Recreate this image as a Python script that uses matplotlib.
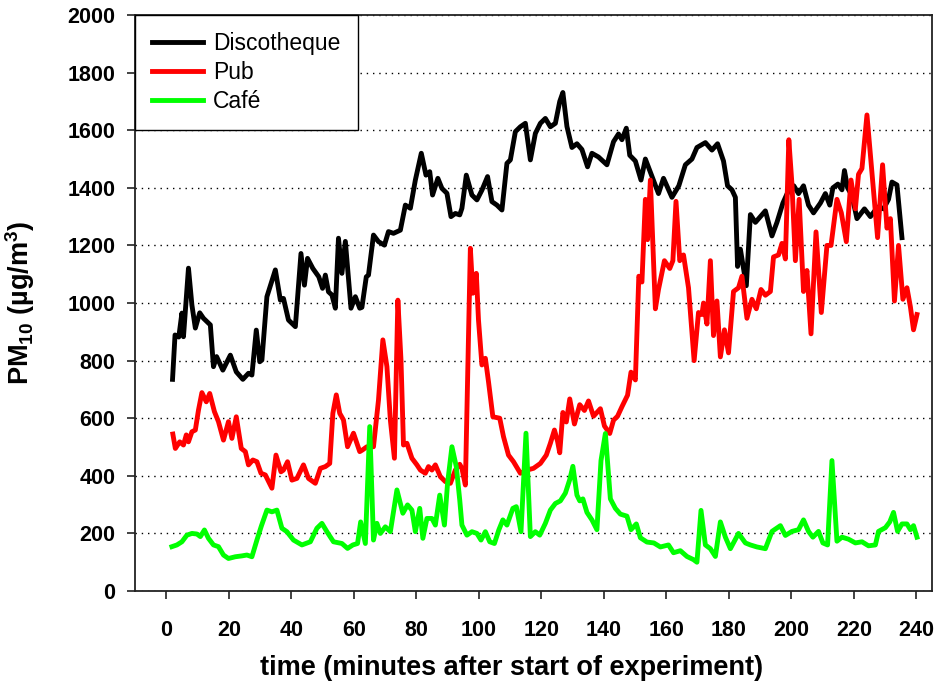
import numpy as np
import matplotlib
matplotlib.use("Agg")
import matplotlib.pyplot as plt

plt.rcParams['font.family'] = ['Liberation Sans', 'DejaVu Sans']
plt.rcParams['mathtext.fontset'] = 'custom'
plt.rcParams['mathtext.rm'] = 'Liberation Sans:bold'
plt.rcParams['mathtext.default'] = 'rm'

# time (min) / PM10 (ug/m3)
disco_t = [2.0, 2.8, 4.0, 5.0, 5.5, 7.1, 8.2, 9.3, 10.7, 11.9, 14.1, 15.1, 16.1, 18.1, 20.5, 22.4,
           24.5, 26.3, 27.4, 28.8, 29.9, 30.6, 32.2, 34.9, 36.5, 37.5, 39.1, 41.3, 43.1, 44.2, 45.2,
           46.9, 48.8, 50.0, 50.9, 51.9, 53.0, 54.1, 55.1, 56.2, 57.3, 59.1, 60.5, 61.9, 62.6, 64.0,
           64.7, 66.3, 67.9, 69.8, 71.1, 72.7, 74.9, 76.5, 78.1, 79.7, 81.6, 83.1, 84.3, 85.2, 86.9,
           88.2, 89.8, 91.1, 92.5, 93.9, 94.6, 96.0, 97.8, 99.4, 101.0, 102.8, 104.2, 105.8, 107.4,
           109.0, 110.1, 111.7, 113.3, 114.9, 116.5, 118.1, 119.7, 121.3, 122.9, 124.5, 125.9, 126.9,
           128.2, 129.8, 131.4, 133.0, 134.8, 136.2, 138.3, 141.0, 143.1, 144.7, 145.8, 147.2, 148.3,
           150.1, 151.9, 153.3, 155.4, 157.5, 159.1, 161.8, 164.0, 166.1, 168.2, 169.8, 172.5, 174.6,
           176.4, 178.3, 179.6, 181.0, 182.1, 182.8, 183.7, 184.7, 185.6, 186.9, 188.5, 190.1, 191.7,
           193.8, 195.4, 197.3, 199.2, 200.8, 202.3, 203.9, 205.5, 207.1, 209.3, 210.9, 212.3, 213.3,
           214.9, 216.2, 217.0, 218.0, 219.4, 221.0, 223.4, 225.3, 227.6, 229.5, 231.1, 232.2, 233.8,
           235.4]
disco_v = [735, 889, 882, 965, 883, 1121, 993, 913, 966, 947, 924, 779, 814, 767, 819, 761,
           735, 756, 750, 906, 796, 802, 1022, 1115, 1010, 1016, 941, 918, 1172, 1062, 1155,
           1120, 1091, 1051, 1097, 1039, 1028, 982, 1225, 1103, 1214, 982, 1022, 982, 985, 1091,
           1097, 1236, 1213, 1201, 1248, 1242, 1253, 1340, 1329, 1427, 1520, 1444, 1456, 1375, 1433,
           1398, 1381, 1300, 1311, 1306, 1329, 1444, 1375, 1358, 1392, 1439, 1352, 1340, 1323,
           1485, 1497, 1595, 1612, 1624, 1497, 1589, 1624, 1641, 1612, 1624, 1700, 1731,
           1613, 1540, 1553, 1533, 1473, 1520, 1507, 1480, 1560, 1587, 1567, 1607, 1513,
           1493, 1427, 1500, 1440, 1380, 1433, 1367, 1407, 1480, 1500, 1540, 1557, 1531,
           1553, 1493, 1407, 1393, 1367, 1127, 1187, 1120, 1060, 1307, 1280, 1300, 1320,
           1233, 1280, 1347, 1393, 1407, 1380, 1407, 1340, 1313, 1347, 1380, 1340, 1400,
           1413, 1393, 1460, 1400, 1373, 1293, 1327, 1300, 1333, 1327, 1360, 1420, 1410,
           1227]

pub_t = [2.1, 2.9, 4.3, 5.5, 6.4, 7.1, 8.2, 9.3, 10.3, 11.4, 12.8, 13.9, 15.4, 16.7, 18.3, 19.9,
         21.0, 22.4, 24.0, 25.3, 26.3, 27.7, 29.0, 30.3, 31.7, 33.8, 35.1, 36.7, 37.5, 38.8, 40.2,
         41.8, 43.9, 45.5, 47.7, 49.3, 50.9, 52.3, 53.3, 54.4, 55.5, 56.7, 58.0, 59.9, 61.9, 62.8,
         64.2, 66.3, 67.9, 69.3, 70.6, 71.7, 73.0, 74.1, 75.1, 75.9, 77.0, 78.6, 80.2, 81.3, 82.9,
         83.9, 85.0, 86.1, 87.7, 89.3, 90.9, 92.5, 93.9, 94.6, 95.7, 97.3, 98.1, 99.2, 99.9, 101.0,
         102.1, 103.1, 104.5, 106.7, 107.9, 109.5, 111.1, 113.3, 115.4, 117.5, 119.7, 121.6, 122.9,
         124.2, 125.2, 125.9, 126.9, 128.0, 129.1, 130.6, 132.3, 133.8, 135.1, 136.7, 138.9, 140.2,
         141.9, 143.1, 144.4, 145.8, 147.6, 148.7, 150.1, 151.2, 152.2, 153.3, 154.0, 154.9, 156.5,
         157.5, 159.4, 161.1, 162.1, 163.1, 164.3, 165.5, 167.1, 168.9, 170.3, 171.4, 171.9, 173.0,
         174.1, 175.1, 176.2, 177.3, 178.6, 179.9, 181.5, 183.1, 184.2, 185.8, 187.4, 188.8, 190.3,
         191.7, 193.3, 194.3, 195.9, 197.0, 198.1, 199.2, 200.2, 201.3, 202.5, 203.9, 205.0, 206.3,
         207.9, 209.6, 211.4, 212.7, 214.6, 216.0, 217.6, 219.1, 220.5, 221.5, 222.6, 224.2, 225.8,
         227.6, 229.2, 230.6, 231.7, 233.0, 234.3, 235.7, 237.0, 238.1, 239.1, 240.2]
pub_v = [545, 495, 518, 507, 542, 518, 553, 559, 628, 689, 657, 686, 623, 588, 524, 588,
         530, 605, 495, 484, 438, 455, 449, 409, 403, 357, 472, 414, 420, 449, 385,
         391, 438, 391, 374, 426, 432, 443, 617, 681, 617, 594, 501, 548, 484, 490,
         501, 501, 663, 872, 779, 594, 461, 1010, 802, 507, 513, 461, 438, 420, 409,
         432, 420, 438, 397, 380, 374, 420, 440, 426, 368, 1190, 1034, 1103, 941, 785,
         808, 727, 605, 600, 536, 472, 449, 409, 420, 426, 443, 472, 513,
         559, 520, 480, 620, 587, 667, 580, 647, 627, 660, 607, 633, 573,
         547, 593, 607, 640, 680, 760, 733, 1093, 1073, 1360, 1220, 1427, 980,
         1047, 1147, 1120, 1147, 1353, 1147, 1167, 1053, 800, 967, 960, 1000, 927,
         1147, 887, 1007, 813, 907, 827, 1040, 1053, 1093, 947, 1013, 980, 1047,
         1027, 1040, 1160, 1167, 1207, 1153, 1567, 1413, 1147, 1360, 1040, 1113, 893,
         1247, 967, 1200, 1200, 1360, 1313, 1213, 1427, 1327, 1447, 1467, 1653, 1453,
         1227, 1480, 1260, 1293, 1007, 1200, 1013, 1053, 987, 907, 960]

cafe_t = [1.8, 3.4, 5.0, 6.6, 8.2, 9.8, 10.9, 12.2, 13.5, 15.1, 16.7, 18.3, 19.9, 22.1, 24.2, 25.8,
          27.4, 29.0, 30.4, 32.2, 33.8, 35.4, 37.0, 38.6, 40.7, 43.4, 46.1, 48.2, 49.8, 51.4, 53.5,
          56.2, 58.0, 59.7, 61.2, 62.2, 63.7, 65.1, 66.3, 67.4, 68.5, 70.1, 71.7, 73.8, 75.7, 77.2,
          78.6, 79.7, 81.1, 82.1, 83.4, 85.0, 86.1, 87.5, 89.0, 90.0, 91.4, 92.8, 93.9, 94.6, 96.2,
          97.8, 99.4, 100.7, 102.1, 103.5, 105.0, 106.4, 107.7, 109.0, 110.9, 112.0, 113.5, 115.1,
          116.5, 118.1, 119.5, 121.3, 122.9, 124.5, 126.1, 127.7, 129.1, 130.1, 131.4, 132.3, 133.3,
          134.6, 136.2, 137.8, 139.1, 140.5, 142.1, 143.7, 145.3, 147.4, 148.7, 150.4, 151.7, 153.8,
          156.0, 158.1, 160.7, 162.3, 164.5, 166.6, 168.7, 169.8, 171.1, 172.5, 174.1, 175.7, 177.3,
          178.9, 180.5, 183.1, 185.3, 186.9, 189.0, 191.7, 193.8, 196.5, 198.1, 200.2, 202.3, 203.9,
          205.5, 206.9, 208.7, 210.1, 211.6, 213.0, 214.6, 216.2, 218.3, 220.5, 222.6, 224.7, 226.9,
          227.9, 230.1, 231.5, 232.7, 234.0, 235.4, 237.0, 238.1, 239.1, 240.2]
cafe_v = [154, 160, 171, 194, 200, 198, 189, 212, 183, 160, 154, 125, 113, 119, 122, 125,
          119, 177, 225, 281, 275, 281, 218, 206, 177, 160, 171, 218, 235, 206, 171,
          165, 148, 160, 165, 240, 165, 571, 177, 235, 200, 223, 206, 351, 270, 299,
          281, 206, 287, 183, 252, 252, 229, 333, 229, 374, 501, 432, 316, 229, 194,
          206, 200, 177, 206, 171, 165, 212, 247, 229, 287, 293, 206, 548,
          189, 206, 194, 235, 281, 304, 313, 340, 387, 433, 333, 313, 320,
          273, 247, 213, 453, 547, 320, 287, 267, 260, 213, 233, 185, 170,
          167, 153, 160, 133, 140, 120, 109, 100, 280, 160, 147, 120, 240,
          187, 147, 200, 167, 160, 153, 147, 207, 227, 193, 207, 213, 247,
          207, 187, 207, 167, 160, 453, 173, 187, 180, 167, 171, 157, 160,
          207, 220, 240, 273, 207, 233, 233, 213, 227, 187]

series = [("Discotheque", disco_t, disco_v, "#000000"),
          ("Pub", pub_t, pub_v, "#ff0000"),
          ("Caf\u00e9", cafe_t, cafe_v, "#00ff00")]

fig = plt.figure(figsize=(9.39, 6.89), dpi=100)
ax = fig.add_axes([0.1438, 0.1422, 0.8487, 0.8360])

for name, t, v, col in series:
    ax.plot(t, v, color=col, lw=3.5, label=name, solid_joinstyle='round', zorder=3)

ax.set_xlim(-10, 245)
ax.set_ylim(0, 2000)
ax.set_xticks(np.arange(0, 241, 20))
ax.set_yticks(np.arange(0, 2001, 200))
ax.yaxis.grid(True, linestyle=(0, (1, 3.5)), color='black', lw=1.0, zorder=1)
ax.set_axisbelow(True)

for s in ax.spines.values():
    s.set_linewidth(1.3)
    s.set_color('#222222')
ax.tick_params(direction='out', length=6, width=1.2, color='#222222',
               labelsize=15.5, top=False, right=False)
ax.tick_params(axis='x', pad=15)
ax.tick_params(axis='y', pad=8)
for lab in ax.get_xticklabels() + ax.get_yticklabels():
    lab.set_fontweight('bold')

ax.set_xlabel("time (minutes after start of experiment)", fontsize=19.5, fontweight='bold')
ax.set_ylabel(r"PM$_{10}$ (µg/m$^{3}$)", fontsize=19.5, fontweight='bold')
ax.xaxis.set_label_coords(0.473, -0.111)
ax.yaxis.set_label_coords(-0.123, 0.5)

leg = ax.legend(loc='upper left', borderaxespad=0, fontsize=16.5, fancybox=False,
                framealpha=1, edgecolor='black', handlelength=2.2, handletextpad=0.45,
                labelspacing=0.25, borderpad=0.75)
leg.get_frame().set_linewidth(1.0)
leg.set_zorder(5)

fig.savefig("out.png", dpi=100)
